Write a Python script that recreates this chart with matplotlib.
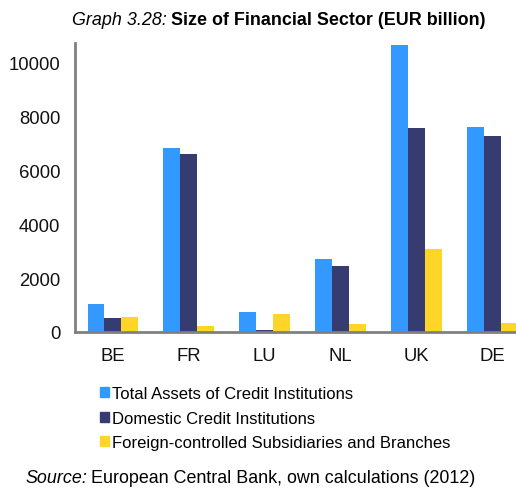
import matplotlib.pyplot as plt
import matplotlib.patches as mpatches
import numpy as np

plt.rcParams["font.family"] = ["Liberation Sans", "DejaVu Sans"]

countries = ["BE", "FR", "LU", "NL", "UK", "DE"]
total_assets = [1050, 6820, 740, 2700, 10640, 7590]
domestic = [520, 6600, 90, 2430, 7550, 7260]
foreign = [540, 240, 660, 290, 3070, 320]

series = [
    ("Total Assets of Credit Institutions", total_assets, "#3399ff"),
    ("Domestic Credit Institutions", domestic, "#363c70"),
    ("Foreign-controlled Subsidiaries and Branches", foreign, "#ffd52a"),
]

W, H = 516, 489
fig = plt.figure(figsize=(W / 100, H / 100), dpi=100)
# axes spans x 75..530 px (cropped on the right), y 44..333 px
ax = fig.add_axes([75 / W, 1 - 333 / H, 455 / W, (333 - 44) / H])

x = np.arange(len(countries))
bw = 0.222
for i, (name, vals, col) in enumerate(series):
    ax.bar(x + (i - 1) * bw, vals, width=bw, color=col, linewidth=0)

ax.set_xlim(-0.5, len(countries) - 0.5)
ax.set_ylim(0, 10720)
ax.set_yticks([0, 2000, 4000, 6000, 8000, 10000])
ax.set_xticks(x)
ax.set_xticklabels(countries)
ax.tick_params(length=0, labelsize=13.3, colors="#111111")
ax.tick_params(axis="y", pad=10.5)
ax.tick_params(axis="x", pad=11)
for s in ["top", "right"]:
    ax.spines[s].set_visible(False)
for s in ["left", "bottom"]:
    ax.spines[s].set_color("#808080")
    ax.spines[s].set_linewidth(2)


def two_part(x0, y0, first, second, size, first_kw, second_kw, gap=4):
    """Draw two texts side by side on one baseline."""
    t1 = fig.text(x0 / W, 1 - y0 / H, first, fontsize=size, va="baseline",
                  ha="left", **first_kw)
    r = fig.canvas.get_renderer()
    bb = t1.get_window_extent(renderer=r)
    fig.text((bb.x1 + gap) / W, 1 - y0 / H, second, fontsize=size,
             va="baseline", ha="left", **second_kw)


two_part(72, 25, "Graph 3.28:", "Size of Financial Sector (EUR billion)", 12.9,
         {"style": "italic"}, {"weight": "bold"})

handles = [mpatches.Patch(color=c, label=n) for n, _, c in series]
fig.legend(handles=handles, loc="upper left", bbox_to_anchor=(100 / W, 1 - 387 / H),
           frameon=False, fontsize=12.0, handlelength=0.55, handleheight=0.55,
           handletextpad=0.2, labelspacing=0.58, borderaxespad=0, borderpad=0)

two_part(25, 483, "Source:", "European Central Bank, own calculations (2012)", 12.9,
         {"style": "italic"}, {}, gap=4)

fig.savefig("out.png", dpi=100)
